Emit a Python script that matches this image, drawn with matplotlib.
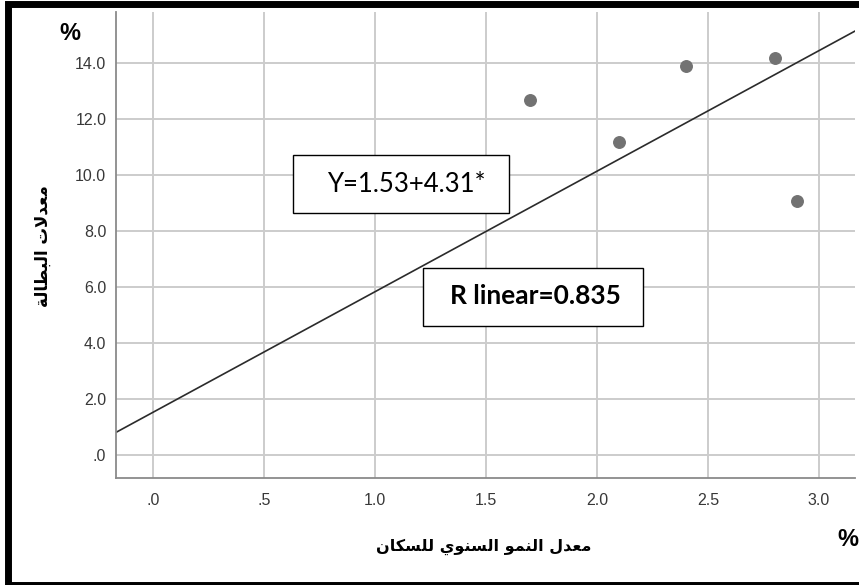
import matplotlib
matplotlib.use("Agg")
import matplotlib.pyplot as plt
from matplotlib.patches import Rectangle

# ---- data ----
growth_rate = [1.7, 2.1, 2.4, 2.8, 2.9]          # annual population growth (%)
unemployment = [12.7, 11.2, 13.9, 14.2, 9.1]     # unemployment rate (%)
fit_intercept = 1.53
fit_slope = 4.31
r_linear = 0.835

x_ticks = [0.0, 0.5, 1.0, 1.5, 2.0, 2.5, 3.0]
x_tick_labels = [".0", ".5", "1.0", "1.5", "2.0", "2.5", "3.0"]
y_ticks = [0, 2, 4, 6, 8, 10, 12, 14]
y_tick_labels = [".0", "2.0", "4.0", "6.0", "8.0", "10.0", "12.0", "14.0"]

x_title = "معدل النمو السنوي للسكان"
y_title = "معدلات البطالة"

# ---- Arabic contextual shaping (presentation forms) ----
FORMS = {
    # letter: (isolated, final, initial, medial)
    "ا": ("\uFE8D", "\uFE8E", None, None),
    "ب": ("\uFE8F", "\uFE90", "\uFE91", "\uFE92"),
    "ة": ("\uFE93", "\uFE94", None, None),
    "ت": ("\uFE95", "\uFE96", "\uFE97", "\uFE98"),
    "د": ("\uFEA9", "\uFEAA", None, None),
    "س": ("\uFEB1", "\uFEB2", "\uFEB3", "\uFEB4"),
    "ط": ("\uFEC1", "\uFEC2", "\uFEC3", "\uFEC4"),
    "ع": ("\uFEC9", "\uFECA", "\uFECB", "\uFECC"),
    "ك": ("\uFED9", "\uFEDA", "\uFEDB", "\uFEDC"),
    "ل": ("\uFEDD", "\uFEDE", "\uFEDF", "\uFEE0"),
    "م": ("\uFEE1", "\uFEE2", "\uFEE3", "\uFEE4"),
    "ن": ("\uFEE5", "\uFEE6", "\uFEE7", "\uFEE8"),
    "و": ("\uFEED", "\uFEEE", None, None),
    "ي": ("\uFEF1", "\uFEF2", "\uFEF3", "\uFEF4"),
    "لا": ("\uFEFB", "\uFEFC", None, None),
}


def shape_arabic(text):
    tokens = []
    i = 0
    while i < len(text):
        if text[i] == "ل" and i + 1 < len(text) and text[i + 1] == "ا":
            tokens.append("لا")
            i += 2
        else:
            tokens.append(text[i])
            i += 1

    def joins_next(tok):
        return tok in FORMS and FORMS[tok][2] is not None

    out = []
    for k, tok in enumerate(tokens):
        if tok not in FORMS:
            out.append(tok)
            continue
        prev_tok = tokens[k - 1] if k > 0 else None
        next_tok = tokens[k + 1] if k + 1 < len(tokens) else None
        j_prev = prev_tok is not None and joins_next(prev_tok)
        j_next = joins_next(tok) and next_tok in FORMS
        iso, fin, ini, med = FORMS[tok]
        if j_prev and j_next:
            out.append(med)
        elif j_prev:
            out.append(fin)
        elif j_next:
            out.append(ini)
        else:
            out.append(iso)
    return "".join(reversed(out))


# ---- figure ----
W, H, DPI = 859, 585, 100
fig = plt.figure(figsize=(W / DPI, H / DPI), dpi=DPI)
fig.patch.set_facecolor("white")


def px_x(x):
    return x / W


def px_y(y):
    return 1 - y / H


ax = fig.add_axes([px_x(116), px_y(477.7), px_x(855) - px_x(116), px_y(12) - px_y(477.7)])
ax.set_xlim(-0.167, 3.162)
ax.set_ylim(-0.81, 15.84)

ax.set_xticks(x_ticks)
ax.set_xticklabels(x_tick_labels)
ax.set_yticks(y_ticks)
ax.set_yticklabels(y_tick_labels)
ax.tick_params(length=0, labelsize=11.5, labelcolor="#383838")
ax.tick_params(axis="y", pad=7)
ax.tick_params(axis="x", pad=11)
for lab in ax.get_xticklabels() + ax.get_yticklabels():
    lab.set_fontfamily("Liberation Sans")

ax.grid(True, color="#cccccc", linewidth=1.4)
ax.set_axisbelow(True)
for side in ("top", "right"):
    ax.spines[side].set_visible(False)
for side in ("left", "bottom"):
    ax.spines[side].set_color("#8a8a8a")
    ax.spines[side].set_linewidth(1.3)

# fit line
ax.axline((0, fit_intercept), slope=fit_slope, color="#2b2b2b", linewidth=1.2, zorder=2)

# observations
ax.plot(growth_rate, unemployment, linestyle="none", marker="o", markersize=8.3,
        markerfacecolor="#727272", markeredgecolor="#727272", zorder=3)

# axis titles
fig.text(px_x(484), px_y(547), shape_arabic(x_title), ha="center", va="center",
         fontsize=11.5, fontweight="bold", family="DejaVu Sans", color="#000000")
fig.text(px_x(43), px_y(246), shape_arabic(y_title), ha="center", va="center",
         rotation=90, fontsize=12, fontweight="bold", family="DejaVu Sans", color="#000000")

# percent markers
fig.text(px_x(70), px_y(34), "%", ha="center", va="center", fontsize=17,
         fontweight="bold", family="Liberation Sans")
fig.text(px_x(848), px_y(540), "%", ha="center", va="center", fontsize=17,
         fontweight="bold", family="Liberation Sans")

# equation and fit annotations
fig.add_artist(Rectangle((px_x(292.7), px_y(213)), px_x(216), 58 / H,
                         transform=fig.transFigure, facecolor="white",
                         edgecolor="black", linewidth=1.0, zorder=5))
fig.text(px_x(406.7), px_y(185), f"Y={fit_intercept:.2f}+{fit_slope:.2f}*",
         ha="center", va="center", fontsize=18.5, family="Lato", zorder=6)

fig.add_artist(Rectangle((px_x(422.7), px_y(325.7)), px_x(220), 58 / H,
                         transform=fig.transFigure, facecolor="white",
                         edgecolor="black", linewidth=1.0, zorder=5))
fig.text(px_x(535.5), px_y(296), f"R linear={r_linear:.3f}",
         ha="center", va="center", fontsize=19, fontweight="bold", family="Lato", zorder=6)

# outer frame
fig.add_artist(Rectangle((px_x(7.5), px_y(584.5)), px_x(880), (584.5 - 3.5) / H,
                         transform=fig.transFigure, facecolor="none",
                         edgecolor="black", linewidth=5.0, zorder=10))

fig.savefig("out.png", dpi=DPI)
